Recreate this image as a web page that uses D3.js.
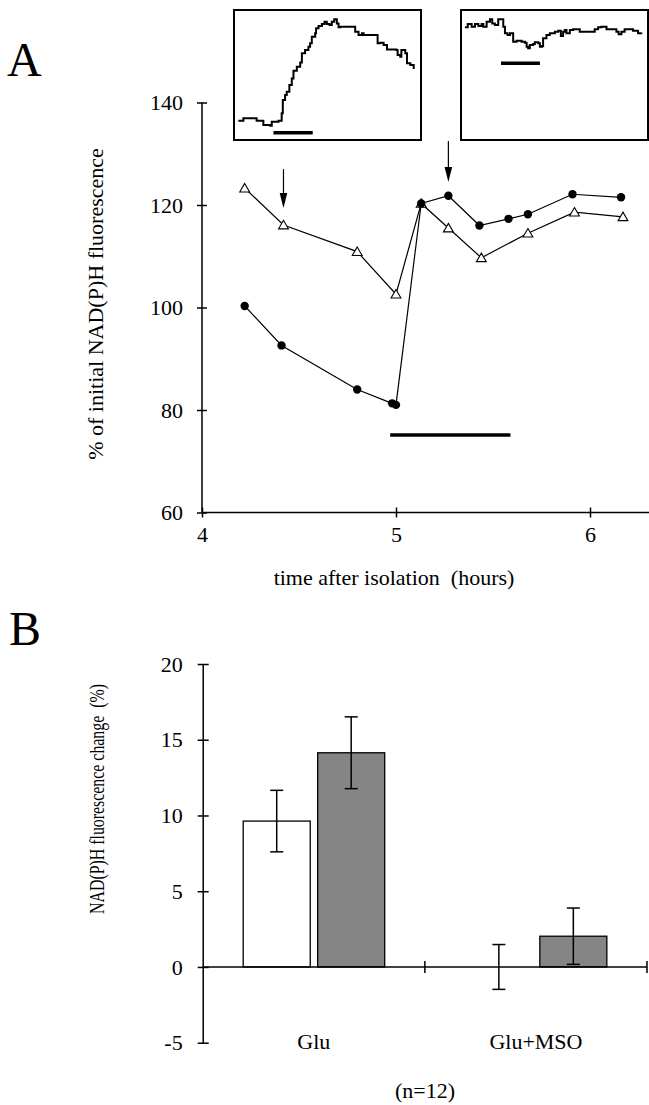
<!DOCTYPE html>
<html>
<head>
<meta charset="UTF-8">
<title>NAD(P)H fluorescence</title>
<style>
  body { margin: 0; background: #fff; }
  svg { display: block; }
  text { font-family: "Liberation Serif", "Times New Roman", serif; fill: #000; }
  .axis path, .axis line { stroke: #000; stroke-width: 1.5; }
  .axis text { font-size: 22px; font-family: "Liberation Serif", "Times New Roman", serif; }
</style>
</head>
<body>
<svg id="fig"></svg>
<script src="https://d3js.org/d3.v7.min.js"></script>
<script>

// panel A: time course (hours after isolation, % of initial fluorescence)
var triTime = [4.22, 4.42, 4.80, 5.00, 5.13, 5.27, 5.44, 5.68, 5.92, 6.17];
var triVal  = [123.3, 116.1, 110.9, 102.6, 120.3, 115.5, 109.7, 114.5, 118.6, 117.7];
var dotTime = [4.22, 4.41, 4.80, 4.98, 5.00, 5.13, 5.27, 5.43, 5.58, 5.68, 5.91, 6.16];
var dotVal  = [100.3, 92.6, 84.0, 81.3, 81.0, 120.3, 121.8, 116.0, 117.3, 118.2, 122.1, 121.5];
var xTicksA = [4, 5, 6];
var yTicksA = [60, 80, 100, 120, 140];
var arrowTime = [4.42, 5.27];
var arrowFrom = [127.0, 132.5];
var arrowTo   = [119.4, 124.5];
var barTime = [4.97, 5.59];
var barLevel = 75.1;

// insets: traces in box units (0-100 across, 0-100 up)
var trace1X = [2.3, 5.0, 11.3, 12.1, 14.8, 15.7, 19.3, 20.2, 23.8, 25.5, 26.1, 27.3, 28.2, 29.6, 30.9, 31.8, 33.6, 35.4, 36.3, 38.0, 39.8, 40.7, 41.6, 43.4, 43.9, 45.2, 47.0, 48.4, 49.6, 51.1, 52.3, 53.6, 55.0, 55.9, 56.8, 63.0, 64.8, 66.6, 68.4, 69.3, 76.4, 76.8, 78.2, 80.0, 81.8, 86.8, 87.5, 88.9, 89.5, 90.7, 91.6, 92.5, 94.3, 96.1];
var trace1Y = [14.9, 16.7, 16.7, 14.9, 14.9, 11.5, 11.0, 14.1, 14.9, 20.5, 30.8, 34.6, 37.2, 42.3, 47.4, 53.3, 56.4, 59.7, 66.7, 69.2, 71.8, 74.4, 79.5, 82.1, 85.9, 87.7, 89.2, 91.0, 89.2, 88.5, 91.0, 92.8, 89.7, 86.7, 87.2, 87.2, 83.3, 80.8, 82.1, 80.8, 80.8, 74.4, 74.9, 73.1, 69.7, 69.2, 65.4, 64.1, 69.2, 69.2, 66.7, 59.0, 57.7, 54.6];
var trace2X = [2.1, 3.6, 5.7, 7.5, 9.3, 11.0, 11.9, 13.7, 15.5, 16.7, 18.1, 19.9, 21.4, 22.6, 23.5, 24.9, 26.2, 27.4, 27.9, 29.7, 32.4, 34.2, 35.1, 35.9, 36.8, 38.6, 39.5, 41.3, 42.2, 43.4, 43.9, 45.7, 47.5, 49.3, 50.2, 52.0, 53.4, 54.6, 55.5, 56.4, 58.2, 60.0, 63.5, 69.8, 71.5, 73.3, 75.1, 77.8, 80.4, 83.1, 84.3, 85.8, 87.5, 90.2, 92.0, 94.7, 96.4];
var trace2Y = [86.7, 89.2, 87.2, 89.2, 87.7, 89.2, 87.2, 91.0, 92.8, 89.7, 88.5, 92.8, 92.8, 87.2, 82.1, 80.8, 82.1, 82.1, 75.6, 76.4, 75.6, 74.9, 71.8, 70.5, 73.1, 73.8, 75.1, 74.4, 71.8, 72.3, 78.2, 80.8, 82.1, 82.1, 83.3, 84.1, 80.0, 83.3, 84.6, 82.1, 84.6, 85.1, 83.3, 83.3, 85.1, 86.7, 87.2, 85.1, 85.1, 83.3, 81.3, 83.3, 85.1, 85.1, 84.1, 82.1, 82.6];
var insetBar1 = [21.1, 42.1], insetBar1Y = 5.6;
var insetBar2 = [21.4, 42.2], insetBar2Y = 59;

// panel B: fluorescence change (%)
var categories = ["Glu", "Glu+MSO"];
var groups = ["open", "filled"];
var meanOpen   = [9.63, 0.0];
var meanFilled = [14.14, 2.03];
var errOpen    = [2.03, 1.48];
var errFilled  = [2.37, 1.86];
var yTicksB = [-5, 0, 5, 10, 15, 20];

var width = 649, height = 1105;
var svg = d3.select("#fig").attr("width", width).attr("height", height);

// ---------- panel A ----------
var xA = d3.scaleLinear().domain([4, 6.3]).range([202, 648.2]);
var yA = d3.scaleLinear().domain([60, 140]).range([512.5, 102.5]);

svg.append("text").attr("x", 7).attr("y", 76).style("font-size", "48px").text("A");

var gyA = svg.append("g").attr("class", "axis").attr("transform", "translate(202,0)")
    .call(d3.axisLeft(yA).tickValues(yTicksA).tickSize(5).tickPadding(14).tickSizeOuter(0));
gyA.selectAll(".tick line").attr("x1", 5);
gyA.select(".domain").attr("d", "M0," + yA(140) + "V" + yA(60));

var gxA = svg.append("g").attr("class", "axis").attr("transform", "translate(0," + yA(60) + ")")
    .call(d3.axisBottom(xA).tickValues(xTicksA).tickFormat(d3.format("d")).tickSize(5).tickPadding(9).tickSizeOuter(0));
gxA.selectAll(".tick line").attr("y1", -5);
gxA.select(".domain").attr("d", "M" + xA(4) + ",0H" + width);

svg.append("text").attr("x", 394).attr("y", 585).attr("text-anchor", "middle")
    .style("font-size", "22px").style("white-space", "pre")
    .text("time after isolation  (hours)");

svg.append("text").attr("transform", "translate(103,304) rotate(-90)")
    .attr("text-anchor", "middle").style("font-size", "22px")
    .text("% of initial NAD(P)H fluorescence");

var lineA = d3.line().x(function(d){ return xA(d[0]); }).y(function(d){ return yA(d[1]); });
var triData = d3.zip(triTime, triVal);
var dotData = d3.zip(dotTime, dotVal);

svg.append("path").datum(triData).attr("d", lineA)
    .attr("fill", "none").attr("stroke", "#000").attr("stroke-width", 1.2);
svg.append("path").datum(dotData).attr("d", lineA)
    .attr("fill", "none").attr("stroke", "#000").attr("stroke-width", 1.2);

svg.selectAll(".tri").data(triData).enter().append("path")
    .attr("class", "tri")
    .attr("transform", function(d){ return "translate(" + xA(d[0]) + "," + (yA(d[1]) + 1) + ")"; })
    .attr("d", d3.symbol().type(d3.symbolTriangle).size(42))
    .attr("fill", "#fff").attr("stroke", "#000").attr("stroke-width", 1.1);

svg.selectAll(".dot").data(dotData).enter().append("circle")
    .attr("class", "dot")
    .attr("cx", function(d){ return xA(d[0]); })
    .attr("cy", function(d){ return yA(d[1]); })
    .attr("r", 4.2).attr("fill", "#000");

// arrows
arrowTime.forEach(function(t, i) {
  var x = xA(t), y0 = yA(arrowFrom[i]), y1 = yA(arrowTo[i]);
  svg.append("line").attr("x1", x).attr("x2", x).attr("y1", y0).attr("y2", y1 - 12)
      .attr("stroke", "#000").attr("stroke-width", 1.2);
  svg.append("path").attr("d", "M" + (x - 3.8) + "," + (y1 - 15) + "L" + (x + 3.8) + "," + (y1 - 15) + "L" + x + "," + y1 + "Z")
      .attr("fill", "#000");
});

// treatment bar
svg.append("line").attr("x1", xA(barTime[0])).attr("x2", xA(barTime[1]))
    .attr("y1", yA(barLevel)).attr("y2", yA(barLevel))
    .attr("stroke", "#000").attr("stroke-width", 3.5);

// insets
function inset(x0, x1, tx, ty, bar, barY) {
  var ix = d3.scaleLinear().domain([0, 100]).range([x0, x1]);
  var iy = d3.scaleLinear().domain([0, 100]).range([140, 10]);
  svg.append("rect").attr("x", x0).attr("y", 10).attr("width", x1 - x0).attr("height", 130)
      .attr("fill", "none").attr("stroke", "#000").attr("stroke-width", 2);
  svg.append("path").datum(d3.zip(tx, ty))
      .attr("d", d3.line().x(function(d){ return ix(d[0]); }).y(function(d){ return iy(d[1]); }).curve(d3.curveStepAfter))
      .attr("fill", "none").attr("stroke", "#000").attr("stroke-width", 2);
  svg.append("line").attr("x1", ix(bar[0])).attr("x2", ix(bar[1]))
      .attr("y1", iy(barY)).attr("y2", iy(barY))
      .attr("stroke", "#000").attr("stroke-width", 3.5);
}
inset(234, 421, trace1X, trace1Y, insetBar1, insetBar1Y);
inset(461, 648, trace2X, trace2Y, insetBar2, insetBar2Y);

// ---------- panel B ----------
var yB = d3.scaleLinear().domain([-5, 20]).range([1042.7, 664]);
var xB = d3.scaleBand().domain(categories).range([202.7, 647]).padding(0);
var xSub = d3.scaleBand().domain(groups).range([40.5, 182]).paddingInner(0.1).paddingOuter(0);

svg.append("text").attr("x", 9).attr("y", 645).style("font-size", "48px").text("B");

var gyB = svg.append("g").attr("class", "axis").attr("transform", "translate(202.7,0)")
    .call(d3.axisLeft(yB).tickValues(yTicksB).tickFormat(function(d){ return String(d); })
      .tickSize(5).tickPadding(15).tickSizeOuter(0));
gyB.selectAll(".tick line").attr("x1", 6);

svg.append("text").attr("transform", "translate(104,799) rotate(-90)")
    .attr("text-anchor", "middle").style("font-size", "22px").style("white-space", "pre")
    .attr("textLength", 230).attr("lengthAdjust", "spacingAndGlyphs")
    .text("NAD(P)H fluorescence change  (%)");

var barData = [];
categories.forEach(function(c, i) {
  barData.push({ cat: c, grp: "open", mean: meanOpen[i], err: errOpen[i] });
  barData.push({ cat: c, grp: "filled", mean: meanFilled[i], err: errFilled[i] });
});

svg.selectAll(".bar").data(barData.filter(function(d){ return d.mean > 0; })).enter().append("rect")
    .attr("class", "bar")
    .attr("x", function(d){ return xB(d.cat) + xSub(d.grp); })
    .attr("y", function(d){ return yB(d.mean); })
    .attr("width", xSub.bandwidth())
    .attr("height", function(d){ return yB(0) - yB(d.mean); })
    .attr("fill", function(d){ return d.grp === "open" ? "#fff" : "#858585"; })
    .attr("stroke", "#000").attr("stroke-width", 1.3);

// zero line with category separators
svg.append("line").attr("x1", 202.7).attr("x2", 647).attr("y1", yB(0)).attr("y2", yB(0))
    .attr("stroke", "#000").attr("stroke-width", 1.5);
svg.selectAll(".sep").data(categories).enter().append("line")
    .attr("class", "sep")
    .attr("x1", function(d){ return xB(d) + xB.bandwidth(); })
    .attr("x2", function(d){ return xB(d) + xB.bandwidth(); })
    .attr("y1", yB(0) - 6).attr("y2", yB(0) + 6)
    .attr("stroke", "#000").attr("stroke-width", 1.5);

// error bars
var eb = svg.selectAll(".err").data(barData).enter().append("g").attr("class", "err")
    .attr("transform", function(d){ return "translate(" + (xB(d.cat) + xSub(d.grp) + xSub.bandwidth() / 2) + ",0)"; });
eb.append("line").attr("y1", function(d){ return yB(d.mean + d.err); })
    .attr("y2", function(d){ return yB(d.mean - d.err); })
    .attr("stroke", "#000").attr("stroke-width", 1.5);
eb.append("line").attr("x1", -6.5).attr("x2", 6.5)
    .attr("y1", function(d){ return yB(d.mean + d.err); }).attr("y2", function(d){ return yB(d.mean + d.err); })
    .attr("stroke", "#000").attr("stroke-width", 1.5);
eb.append("line").attr("x1", -6.5).attr("x2", 6.5)
    .attr("y1", function(d){ return yB(d.mean - d.err); }).attr("y2", function(d){ return yB(d.mean - d.err); })
    .attr("stroke", "#000").attr("stroke-width", 1.5);

svg.selectAll(".cat").data(categories).enter().append("text")
    .attr("class", "cat")
    .attr("x", function(d){ return xB(d) + xB.bandwidth() / 2; })
    .attr("y", 1049).attr("text-anchor", "middle").style("font-size", "22px")
    .text(function(d){ return d; });

svg.append("text").attr("x", 425).attr("y", 1098).attr("text-anchor", "middle")
    .style("font-size", "22px").text("(n=12)");

</script>
</body>
</html>
